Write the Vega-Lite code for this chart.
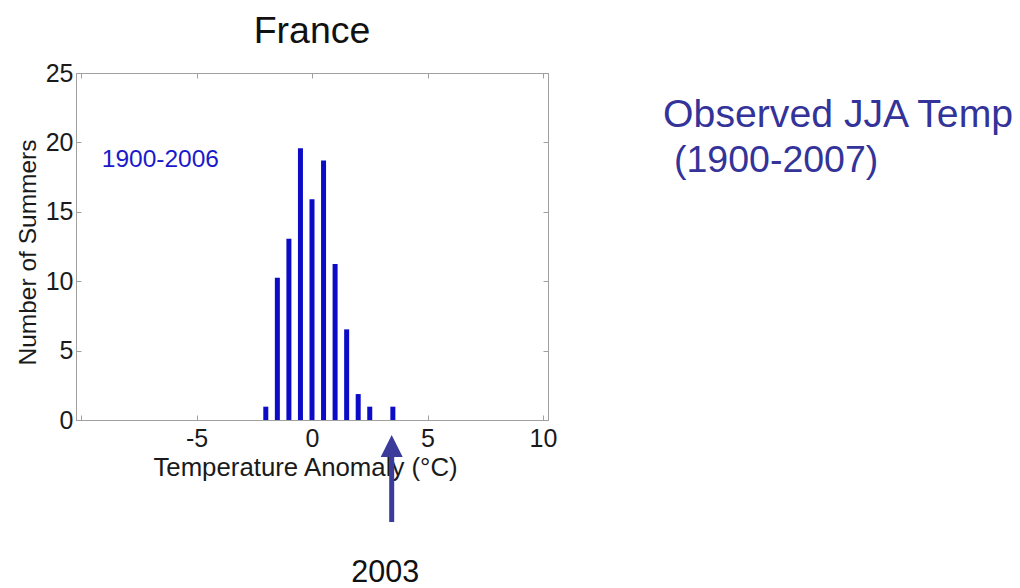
{
  "$schema": "https://vega.github.io/schema/vega-lite/v6.json",
  "autosize": "none",
  "width": 472,
  "height": 347,
  "padding": {"left": 76, "top": 73, "right": 472, "bottom": 168},
  "background": "white",
  "config": {
    "font": "Liberation Sans",
    "view": {"stroke": "#a0a0a0", "strokeWidth": 1},
    "axis": {
      "domainColor": "#a0a0a0",
      "tickColor": "#a0a0a0",
      "grid": false,
      "labelFont": "Liberation Sans",
      "titleFont": "Liberation Sans",
      "labelFontSize": 25,
      "titleFontSize": 25.8,
      "titleFontWeight": "normal",
      "labelColor": "#1a1a1a",
      "titleColor": "#1a1a1a",
      "tickSize": -5
    }
  },
  "title": {
    "text": "France",
    "fontSize": 37.5,
    "fontWeight": "normal",
    "font": "Liberation Sans",
    "color": "#111111",
    "anchor": "middle",
    "baseline": "alphabetic",
    "offset": -19
  },
  "resolve": {"axis": {"x": "independent", "y": "independent"}},
  "layer": [
    {
      "data": {
        "values": [
          {"t": -2.0, "n": 0.96},
          {"t": -1.5, "n": 10.25},
          {"t": -1.0, "n": 13.06},
          {"t": -0.5, "n": 19.57},
          {"t": 0.0, "n": 15.9},
          {"t": 0.5, "n": 18.7},
          {"t": 1.0, "n": 11.24},
          {"t": 1.5, "n": 6.53},
          {"t": 2.0, "n": 1.87},
          {"t": 2.5, "n": 0.96},
          {"t": 3.5, "n": 0.96}
        ]
      },
      "mark": {"type": "bar", "width": 5, "color": "#0b0bc8"},
      "encoding": {
        "x": {
          "field": "t", "type": "quantitative",
          "scale": {"domain": [-10, 10], "nice": false, "zero": false},
          "axis": {"orient": "bottom", "values": [-10, -5, 0, 5, 10], "title": "Temperature Anomaly (°C)", "labelPadding": 11, "titlePadding": 4, "titleX": 229, "labelExpr": "datum.value == -10 ? '' : '' + datum.value"}
        },
        "y": {
          "field": "n", "type": "quantitative",
          "scale": {"domain": [0, 25], "nice": false},
          "axis": {"orient": "left", "values": [0, 5, 10, 15, 20, 25], "title": "Number of Summers", "titleFontSize": 24.5, "labelPadding": 8, "titlePadding": 5, "titleY": 179}
        }
      }
    },
    {
      "data": {"values": [{"t": 0, "n": 0}]},
      "mark": {"type": "point", "opacity": 0},
      "encoding": {
        "x": {"field": "t", "type": "quantitative", "axis": {"orient": "top", "labels": false, "title": null, "values": [-10, -5, 0, 5, 10]}},
        "y": {"field": "n", "type": "quantitative", "axis": {"orient": "right", "labels": false, "title": null, "values": [0, 5, 10, 15, 20, 25]}}
      }
    },
    {
      "data": {"values": [{}]},
      "mark": {"type": "text", "text": "1900-2006", "fontSize": 24.5, "color": "#1a1acc", "align": "left", "baseline": "alphabetic", "clip": false},
      "encoding": {"x": {"datum": -9.1, "axis": null}, "y": {"datum": 18.23, "axis": null}}
    },
    {
      "data": {"values": [{}]},
      "mark": {"type": "rule", "strokeWidth": 5, "color": "#3b3b9b", "clip": false},
      "encoding": {"x": {"datum": 3.45, "axis": null}, "y": {"datum": -2.4, "axis": null}, "y2": {"datum": -7.35}}
    },
    {
      "data": {"values": [{}]},
      "mark": {"type": "point", "shape": "M -1 1 L 0 -1 L 1 1 Z", "size": 484, "filled": true, "opacity": 1, "color": "#3b3b9b", "clip": false},
      "encoding": {"x": {"datum": 3.45, "axis": null}, "y": {"datum": -1.87, "axis": null}}
    },
    {
      "data": {"values": [{}]},
      "mark": {"type": "text", "text": "2003", "fontSize": 30.5, "color": "#111111", "align": "center", "baseline": "alphabetic", "clip": false},
      "encoding": {"x": {"datum": 3.17, "axis": null}, "y": {"datum": -11.65, "axis": null}}
    },
    {
      "data": {"values": [{}]},
      "mark": {"type": "text", "text": "Observed JJA Temp", "fontSize": 39.2, "color": "#333399", "align": "left", "baseline": "alphabetic", "clip": false},
      "encoding": {"x": {"datum": 15.2, "axis": null}, "y": {"datum": 21.1, "axis": null}}
    },
    {
      "data": {"values": [{}]},
      "mark": {"type": "text", "text": "(1900-2007)", "fontSize": 37.5, "color": "#333399", "align": "left", "baseline": "alphabetic", "clip": false},
      "encoding": {"x": {"datum": 15.67, "axis": null}, "y": {"datum": 17.87, "axis": null}}
    }
  ]
}
